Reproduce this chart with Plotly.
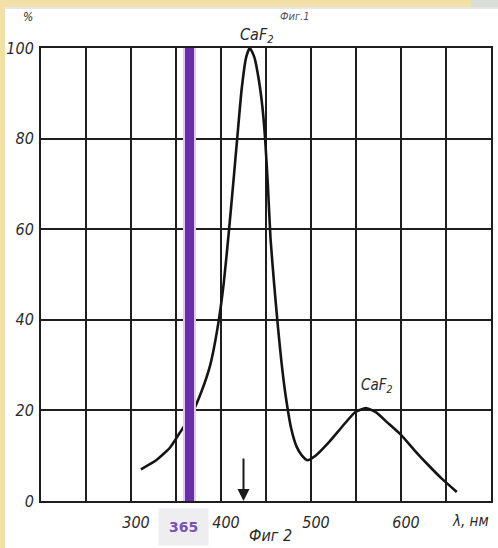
import plotly.graph_objects as go

# ---- data ----
wavelength_nm = [311, 328, 343, 354, 367, 378, 388, 396, 403, 409, 414, 418, 423, 428, 432, 437, 442,
                 446, 449, 452, 455, 459, 463, 467, 472, 478, 484, 490, 496, 505, 520,
                 535, 549, 561, 572, 585, 600, 615, 630, 645, 662]
intensity_pct = [7, 9, 11.7, 15, 19, 24, 30, 38, 48, 60, 71, 80, 91, 98, 100, 98, 93,
                 87, 80, 70, 58, 48, 39, 31, 23, 16, 12, 10, 9, 10, 13,
                 16.5, 19.6, 20.5, 19.6, 17.3, 14.6, 11.2, 8, 5, 2]
marker_nm = 365
arrow_nm = 425
x_ticks = [300, 400, 500, 600]
x_ticktext = ["300", "400", "500", "600"]
x_minor_grid = [250, 350, 450, 550, 650]
y_ticks = [0, 20, 40, 60, 80, 100]
y_ticktext = ["0", "20", "40", "60", "80", "100"]

# ---- geometry helpers (plot area in pixels) ----
W, H = 498, 548
L, R, T, B = 41, 5, 48, 47
PW, PH = W - L - R, H - T - B


def px(x):
    return (x - L) / PW


def py(y):
    return (H - B - y) / PH


hand = dict(family="DejaVu Sans Condensed, DejaVu Sans", color="#2a2a2a", style="italic")

fig = go.Figure()

fig.add_trace(go.Scatter(
    x=wavelength_nm, y=intensity_pct, mode="lines",
    line=dict(color="#141414", width=2.6, shape="spline", smoothing=0.5),
    hoverinfo="skip", showlegend=False))

# purple 365 nm bar (halo + core)
fig.add_trace(go.Scatter(x=[marker_nm, marker_nm], y=[0, 100], mode="lines",
                         line=dict(color="#dccbf2", width=13), showlegend=False, hoverinfo="skip"))
fig.add_trace(go.Scatter(x=[marker_nm, marker_nm], y=[0, 100], mode="lines",
                         line=dict(color="#6a2fa8", width=9), showlegend=False, hoverinfo="skip"))

shapes = [
    dict(type="rect", xref="paper", yref="paper", x0=px(5), x1=1.03, y0=-0.12, y1=py(7),
         fillcolor="white", line=dict(width=0), layer="below"),
    dict(type="rect", xref="paper", yref="paper", x0=px(5), x1=1.03, y0=py(9), y1=py(7),
         fillcolor="#e6e6ea", line=dict(width=0), layer="below"),
    dict(type="rect", xref="paper", yref="paper", x0=px(473), x1=1.03, y0=py(7), y1=1.12,
         fillcolor="#d9ddd7", line=dict(width=0), layer="below"),
]


def label(x, y, text, font, **kw):
    return dict(x=px(x), y=py(y), xref="paper", yref="paper", text=text, showarrow=False,
                xanchor="center", yanchor="middle", font=font, **kw)


annotations = [
    dict(x=arrow_nm, y=0, xref="x", yref="y", ax=0, ay=-44, showarrow=True,
         arrowhead=2, arrowsize=1.2, arrowwidth=2, arrowcolor="#1a1a1a", text=""),
    label(28, 17, "%", dict(size=12, **hand)),
    label(296, 16, "Фиг.1", dict(size=11, family=hand["family"], color="#555", style="italic")),
    label(258, 35, "CaF<sub>2</sub>", dict(size=16, **hand)),
    label(378, 385, "CaF<sub>2</sub>", dict(size=15, **hand)),
    label(272, 535, "Фиг 2", dict(size=16, **hand)),
    label(472, 521, "λ, нм", dict(size=15, **hand)),
    label(184, 527, "<b>365</b>", dict(size=14, family="DejaVu Sans", color="#7a52b3"),
          bgcolor="#eeeef0", borderpad=10),
]

fig.update_layout(
    width=W, height=H,
    margin=dict(l=L, r=R, t=T, b=B),
    paper_bgcolor="#f3e0a6",
    plot_bgcolor="white",
    shapes=shapes,
    annotations=annotations,
    xaxis=dict(range=[200, 700], tickvals=x_ticks, ticktext=x_ticktext,
               showgrid=True, gridcolor="#1e1e1e", gridwidth=2, zeroline=False,
               minor=dict(tickvals=x_minor_grid, showgrid=True, gridcolor="#1e1e1e",
                          gridwidth=2, ticks=""),
               showline=True, mirror=True, linecolor="#1e1e1e", linewidth=2,
               ticks="", tickfont=dict(size=16, **hand),
               ticklabelshift=5, ticklabelstandoff=6),
    yaxis=dict(range=[0, 100], tickvals=y_ticks, ticktext=y_ticktext,
               showgrid=True, gridcolor="#1e1e1e", gridwidth=2, zeroline=False,
               showline=True, mirror=True, linecolor="#1e1e1e", linewidth=2,
               ticks="", tickfont=dict(size=16, **hand), ticklabelstandoff=2),
)

fig.write_html("out.html")
